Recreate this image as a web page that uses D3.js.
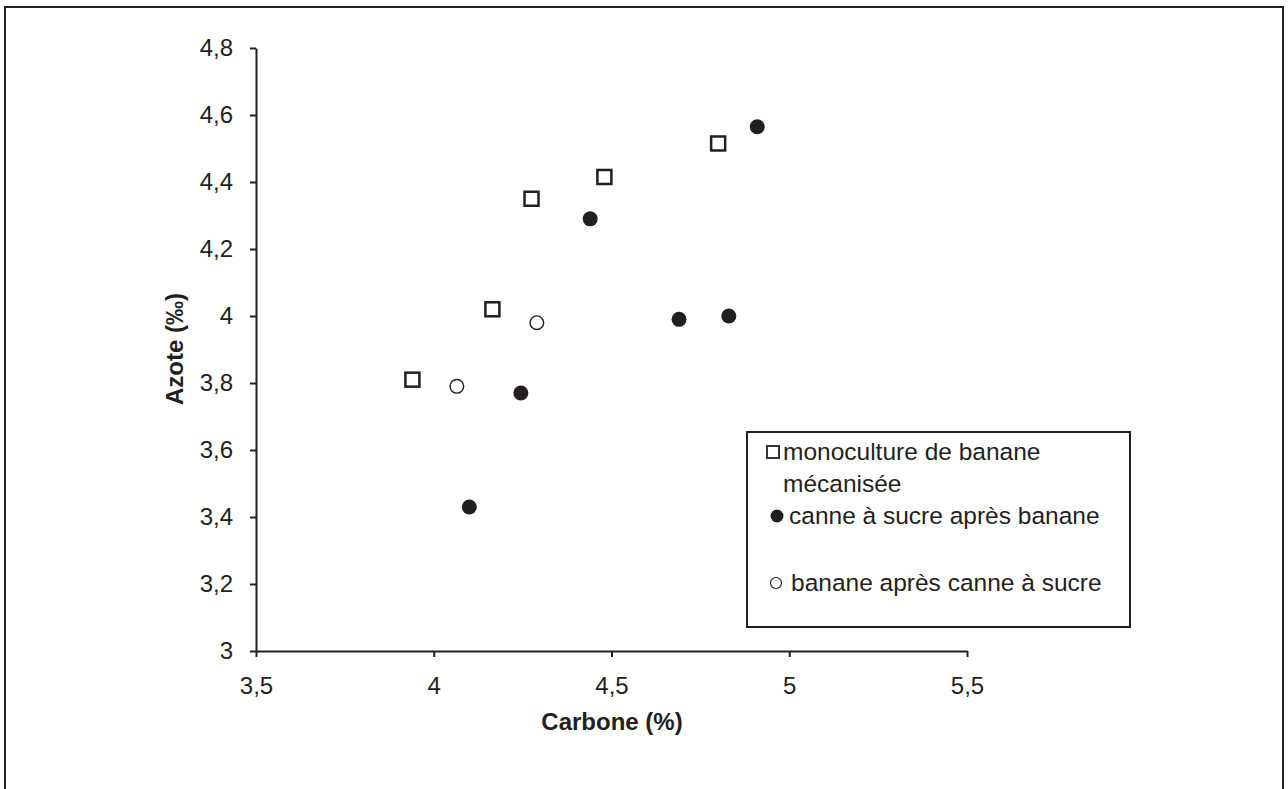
<!DOCTYPE html>
<html>
<head>
<meta charset="utf-8">
<script src="https://cdn.jsdelivr.net/npm/d3@7"></script>
<style>
  body { margin: 0; background: #fff; }
  text { font-family: Arial, "Liberation Sans", sans-serif; fill: #231f20; }
</style>
</head>
<body>
<div id="chart-area"></div>
<script>
// carbone (%) / azote (‰)
let monoculture = [[3.94, 3.81], [4.165, 4.02], [4.275, 4.35], [4.48, 4.415], [4.80, 4.515]];
let canneApresBanane = [[4.10, 3.43], [4.245, 3.77], [4.44, 4.29], [4.69, 3.99], [4.83, 4.00], [4.91, 4.565]];
let bananeApresCanne = [[4.065, 3.79], [4.29, 3.98]];

let xTicks = [3.5, 4, 4.5, 5, 5.5];
let yTicks = [3, 3.2, 3.4, 3.6, 3.8, 4, 4.2, 4.4, 4.6, 4.8];
let legendLabels = ["monoculture de banane", "mécanisée", "canne à sucre après banane", "banane après canne à sucre"];

let ink = "#231f20";
let fr = d3.formatLocale({decimal: ",", thousands: " ", grouping: [3], currency: ["", "€"]});
let fmt = fr.format("~g");

let svg = d3.select("#chart-area").append("svg")
	.attr("width", 1288)
	.attr("height", 789);

// outer frame
svg.append("rect")
	.attr("x", 5).attr("y", 7)
	.attr("width", 1278).attr("height", 800)
	.attr("fill", "none")
	.attr("stroke", ink)
	.attr("stroke-width", 2);

let x = d3.scaleLinear().domain([3.5, 5.5]).range([256, 967]);
let y = d3.scaleLinear().domain([3, 4.8]).range([651, 48]);

let xAxis = d3.axisBottom(x).tickValues(xTicks).tickFormat(fmt)
	.tickSize(6).tickSizeOuter(0).tickPadding(20);
let yAxis = d3.axisLeft(y).tickValues(yTicks).tickFormat(fmt)
	.tickSize(6).tickSizeOuter(0).tickPadding(17);

let gx = svg.append("g")
	.attr("transform", "translate(0,651)")
	.call(xAxis);
let gy = svg.append("g")
	.attr("transform", "translate(256,0)")
	.call(yAxis);

[gx, gy].forEach(g => {
	g.select(".domain").attr("stroke", ink).attr("stroke-width", 2);
	g.selectAll(".tick line").attr("stroke", ink).attr("stroke-width", 2);
	g.selectAll(".tick text")
		.attr("fill", ink)
		.style("font-size", "24px")
		.style("font-family", "Arial, 'Liberation Sans', sans-serif");
});

// axis titles
svg.append("text")
	.attr("x", 612).attr("y", 730)
	.attr("text-anchor", "middle")
	.style("font-size", "24px")
	.style("font-weight", "bold")
	.text("Carbone (%)");

svg.append("text")
	.attr("transform", "translate(183,349) rotate(-90)")
	.attr("text-anchor", "middle")
	.style("font-size", "24px")
	.style("font-weight", "bold")
	.text("Azote (‰)");

// points
svg.selectAll(".mono").data(monoculture)
	.enter().append("rect")
	.attr("class", "mono")
	.attr("x", d => x(d[0]) - 7)
	.attr("y", d => y(d[1]) - 7)
	.attr("width", 14).attr("height", 14)
	.attr("fill", "#fff")
	.attr("stroke", ink)
	.attr("stroke-width", 2.5);

svg.selectAll(".canne").data(canneApresBanane)
	.enter().append("circle")
	.attr("class", "canne")
	.attr("cx", d => x(d[0]))
	.attr("cy", d => y(d[1]))
	.attr("r", 7.5)
	.attr("fill", ink);

svg.selectAll(".banane").data(bananeApresCanne)
	.enter().append("circle")
	.attr("class", "banane")
	.attr("cx", d => x(d[0]))
	.attr("cy", d => y(d[1]))
	.attr("r", 6.8)
	.attr("fill", "#fff")
	.attr("stroke", ink)
	.attr("stroke-width", 1.4);

// legend
let legend = svg.append("g");
legend.append("rect")
	.attr("x", 747).attr("y", 432)
	.attr("width", 383).attr("height", 195)
	.attr("fill", "#fff")
	.attr("stroke", ink)
	.attr("stroke-width", 2);

legend.append("rect")
	.attr("x", 767).attr("y", 446)
	.attr("width", 12).attr("height", 12)
	.attr("fill", "#fff")
	.attr("stroke", ink)
	.attr("stroke-width", 1.8);
legend.append("circle")
	.attr("cx", 777).attr("cy", 516).attr("r", 6.5)
	.attr("fill", ink);
legend.append("circle")
	.attr("cx", 776).attr("cy", 583).attr("r", 5.5)
	.attr("fill", "#fff")
	.attr("stroke", ink)
	.attr("stroke-width", 1.2);

let legendPos = [[783, 460], [783, 492], [789, 524], [791, 591]];
legend.selectAll(".leg-text").data(legendLabels)
	.enter().append("text")
	.attr("class", "leg-text")
	.attr("x", (d, i) => legendPos[i][0])
	.attr("y", (d, i) => legendPos[i][1])
	.style("font-size", "24.5px")
	.text(d => d);
</script>
</body>
</html>
